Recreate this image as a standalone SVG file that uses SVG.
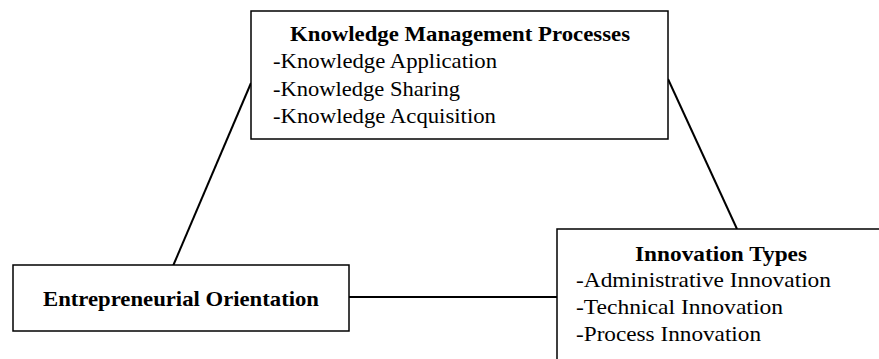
<svg xmlns="http://www.w3.org/2000/svg" width="879" height="359" viewBox="0 0 879 359">
<style>
.box{fill:#fff;stroke:#000;stroke-width:1.5}
.ln{stroke:#000;stroke-width:2;fill:none}
.t{font-family:"Liberation Serif","Times New Roman",serif;font-size:21px;fill:#000}
.b{font-weight:bold}
</style>
<rect width="879" height="359" fill="#fff"/>
<g id="connectors">
<line class="ln" x1="173" y1="266" x2="251" y2="83"/>
<line class="ln" x1="668" y1="79" x2="737" y2="229"/>
<line class="ln" x1="349" y1="297" x2="557" y2="297"/>
</g>
<g id="km">
<rect class="box" x="251" y="11" width="417" height="128"/>
<text class="t b" x="290" y="41" textLength="340" lengthAdjust="spacingAndGlyphs">Knowledge Management Processes</text>
<text class="t" x="273" y="68" textLength="224" lengthAdjust="spacingAndGlyphs">-Knowledge Application</text>
<text class="t" x="273" y="96" textLength="187" lengthAdjust="spacingAndGlyphs">-Knowledge Sharing</text>
<text class="t" x="273" y="123" textLength="223" lengthAdjust="spacingAndGlyphs">-Knowledge Acquisition</text>
</g>
<g id="eo">
<rect class="box" x="13" y="265" width="336" height="66"/>
<text class="t b" x="43" y="306" style="font-size:22px" textLength="276" lengthAdjust="spacingAndGlyphs">Entrepreneurial Orientation</text>
</g>
<g id="it">
<rect class="box" x="557" y="229" width="340" height="150"/>
<text class="t b" x="635" y="261" textLength="172" lengthAdjust="spacingAndGlyphs">Innovation Types</text>
<text class="t" x="576" y="287" textLength="255" lengthAdjust="spacingAndGlyphs">-Administrative Innovation</text>
<text class="t" x="576" y="314" textLength="207" lengthAdjust="spacingAndGlyphs">-Technical Innovation</text>
<text class="t" x="576" y="341" textLength="185" lengthAdjust="spacingAndGlyphs">-Process Innovation</text>
</g>
</svg>
